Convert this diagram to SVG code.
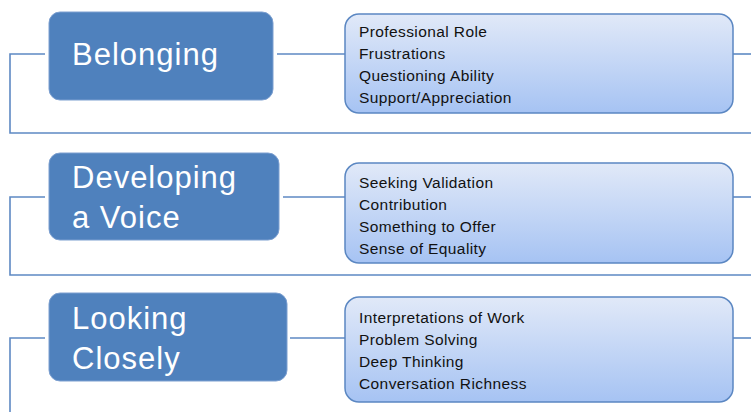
<svg xmlns="http://www.w3.org/2000/svg" width="751" height="412" viewBox="0 0 751 412">
<defs>
<linearGradient id="dg" x1="0" y1="0" x2="0" y2="1">
<stop offset="0" stop-color="#E1E9F8"/>
<stop offset="1" stop-color="#A6C3F3"/>
</linearGradient>
<style>
.main{fill:#4F81BD;stroke:#7C9FD0;stroke-width:1}
.mt{fill:#FFFFFF;font-family:"Liberation Sans",Arial,sans-serif;font-size:31px;letter-spacing:1px}
.det{fill:url(#dg);stroke:#5B87C2;stroke-width:1.5}
.dt{fill:#111111;font-family:"Liberation Sans",Arial,sans-serif;font-size:15.5px;letter-spacing:0.4px}
.ln{fill:none;stroke:#5E89C3;stroke-width:1.6}
</style>
</defs>
<rect width="751" height="412" fill="#FFFFFF"/>
<g id="connectors">
<polyline class="ln" points="45,54 10,54 10,133 751,133"/>
<line class="ln" x1="277" y1="54" x2="345" y2="54"/>
<line class="ln" x1="733" y1="54" x2="751" y2="54"/>
<polyline class="ln" points="45,197 10,197 10,275 751,275"/>
<line class="ln" x1="283" y1="197" x2="345" y2="197"/>
<line class="ln" x1="733" y1="197" x2="751" y2="197"/>
<polyline class="ln" points="45,338 10,338 10,412"/>
<line class="ln" x1="290" y1="338" x2="345" y2="338"/>
<line class="ln" x1="733" y1="338" x2="751" y2="338"/>
</g>
<g id="belonging">
<rect class="main" x="49" y="12" width="224" height="88" rx="11"/>
<text class="mt" x="72" y="65">Belonging</text>
</g>
<g id="belonging-details">
<rect class="det" x="345" y="14" width="388" height="99" rx="14"/>
<text class="dt" x="359" y="37">Professional Role</text>
<text class="dt" x="359" y="59">Frustrations</text>
<text class="dt" x="359" y="81">Questioning Ability</text>
<text class="dt" x="359" y="103">Support/Appreciation</text>
</g>
<g id="developing">
<rect class="main" x="49" y="153" width="230" height="87" rx="11"/>
<text class="mt" x="72" y="188">Developing</text>
<text class="mt" x="72" y="228">a Voice</text>
</g>
<g id="developing-details">
<rect class="det" x="345" y="163" width="388" height="100" rx="14"/>
<text class="dt" x="359" y="188">Seeking Validation</text>
<text class="dt" x="359" y="210">Contribution</text>
<text class="dt" x="359" y="232">Something to Offer</text>
<text class="dt" x="359" y="254">Sense of Equality</text>
</g>
<g id="looking">
<rect class="main" x="49" y="293" width="238" height="88" rx="11"/>
<text class="mt" x="72" y="329">Looking</text>
<text class="mt" x="72" y="369">Closely</text>
</g>
<g id="looking-details">
<rect class="det" x="345" y="297" width="388" height="105" rx="14"/>
<text class="dt" x="359" y="323">Interpretations of Work</text>
<text class="dt" x="359" y="345">Problem Solving</text>
<text class="dt" x="359" y="367">Deep Thinking</text>
<text class="dt" x="359" y="389">Conversation Richness</text>
</g>
</svg>
